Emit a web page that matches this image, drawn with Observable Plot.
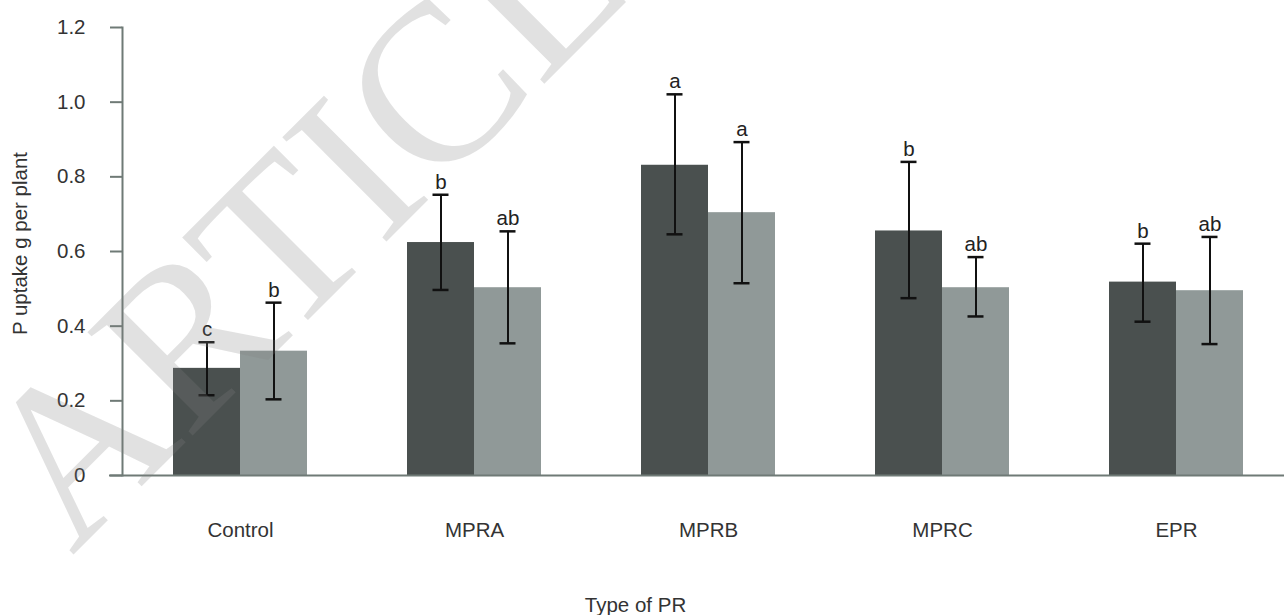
<!DOCTYPE html>
<html>
<head>
<meta charset="utf-8">
<script src="https://cdn.jsdelivr.net/npm/d3@7"></script>
<script src="https://cdn.jsdelivr.net/npm/@observablehq/plot@0.6"></script>
<style>
  html, body { margin: 0; padding: 0; background: #fff; }
  #wrap { position: relative; width: 1284px; height: 615px; overflow: hidden; }
  #wm { position: absolute; left: 0; top: 0; pointer-events: none; }
</style>
</head>
<body>
<div id="wrap">
  <div id="chart"></div>
  <svg id="wm" width="1284" height="615">
    <text transform="translate(72,556) rotate(-45)" font-family="Liberation Serif" font-size="225" fill="rgb(130,130,130)" fill-opacity="0.24">ARTICLE IN PRESS</text>
  </svg>
</div>
<script>
const categories = ["Control", "MPRA", "MPRB", "MPRC", "EPR"];
const seriesNames = ["Series 1", "Series 2"];

const values1 = [0.287, 0.624, 0.831, 0.655, 0.518];
const errHigh1 = [0.357, 0.752, 1.021, 0.840, 0.621];
const errLow1 = [0.215, 0.497, 0.646, 0.475, 0.412];
const letters1 = ["c", "b", "a", "b", "b"];

const values2 = [0.333, 0.503, 0.704, 0.503, 0.495];
const errHigh2 = [0.463, 0.654, 0.893, 0.585, 0.639];
const errLow2 = [0.204, 0.354, 0.515, 0.426, 0.352];
const letters2 = ["b", "ab", "a", "ab", "ab"];

const yTicks = [0, 0.2, 0.4, 0.6, 0.8, 1.0, 1.2];
const yTitle = "P uptake g per plant";
const xTitle = "Type of PR";

const s1 = categories.map((c, i) => ({cat: c, series: seriesNames[0], v: values1[i], hi: errHigh1[i], lo: errLow1[i], t: letters1[i]}));
const s2 = categories.map((c, i) => ({cat: c, series: seriesNames[1], v: values2[i], hi: errHigh2[i], lo: errLow2[i], t: letters2[i]}));

const dark = "#4a504f";
const light = "#909998";
const axisColor = "#6f7a76";
const fs = 20.5;

const errStyle = {stroke: "#111", strokeWidth: 2};

const chart = Plot.plot({
  width: 1284,
  height: 615,
  marginTop: 27,
  marginLeft: 122,
  marginRight: 0,
  marginBottom: 140,
  style: {fontFamily: "Liberation Sans, Arial, sans-serif", fontSize: "20px", color: "#333", background: "#fff"},
  x: {domain: categories, range: [123, 1293], padding: 0},
  y: {domain: [0, 1.2]},
  marks: [
    Plot.barY(s1, {x: "cat", y: "v", fill: dark, insetLeft: 50, insetRight: 117}),
    Plot.barY(s2, {x: "cat", y: "v", fill: light, insetLeft: 117, insetRight: 50}),
    Plot.ruleX(s1, {x: "cat", y1: "lo", y2: "hi", dx: -33.5, ...errStyle}),
    Plot.ruleX(s2, {x: "cat", y1: "lo", y2: "hi", dx: 33.5, ...errStyle}),
    Plot.tickY(s1, {x: "cat", y: "hi", insetLeft: 75.5, insetRight: 142.5, ...errStyle, strokeWidth: 2.5}),
    Plot.tickY(s1, {x: "cat", y: "lo", insetLeft: 75.5, insetRight: 142.5, ...errStyle, strokeWidth: 2.5}),
    Plot.tickY(s2, {x: "cat", y: "hi", insetLeft: 142.5, insetRight: 75.5, ...errStyle, strokeWidth: 2.5}),
    Plot.tickY(s2, {x: "cat", y: "lo", insetLeft: 142.5, insetRight: 75.5, ...errStyle, strokeWidth: 2.5}),
    Plot.text(s1, {x: "cat", y: "hi", text: "t", dx: -33.5, dy: -6, lineAnchor: "bottom", fill: "#222", fontSize: fs}),
    Plot.text(s2, {x: "cat", y: "hi", text: "t", dx: 33.5, dy: -6, lineAnchor: "bottom", fill: "#222", fontSize: fs}),
    Plot.frame({anchor: "left", stroke: axisColor, strokeWidth: 2}),
    Plot.ruleY([0], {stroke: axisColor, strokeWidth: 2, insetLeft: -13}),
    Plot.axisY({ticks: yTicks, tickFormat: d => d === 0 ? "0" : d.toFixed(1), tickSize: 12, tickPadding: 25, stroke: axisColor, strokeWidth: 2, label: null, fill: "#333", fontSize: fs}),
    Plot.axisX({tickSize: 0, tickPadding: 47, label: null, fill: "#333", fontSize: fs}),
    Plot.text([yTitle], {frameAnchor: "left", rotate: -90, textAnchor: "middle", dx: -102, dy: -8, fill: "#333", fontSize: fs}),
    Plot.text([xTitle], {frameAnchor: "bottom", dx: -68, dy: 136, fill: "#333", fontSize: fs})
  ]
});
document.getElementById("chart").appendChild(chart);
</script>
</body>
</html>
